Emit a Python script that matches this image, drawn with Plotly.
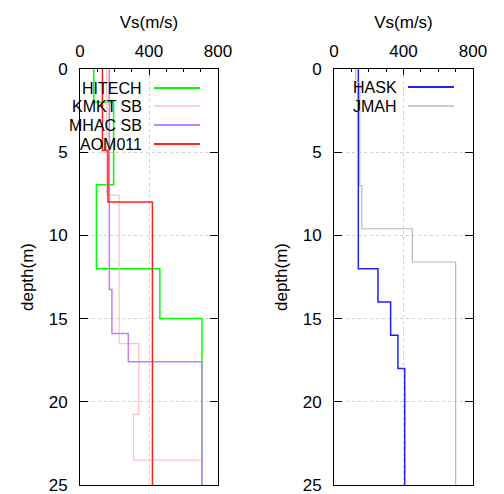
import plotly.graph_objects as go

# ---- data: layer tops (m) and Vs (m/s) ----
hitech_top = [0, 2.0, 6.95, 12.0, 15.0]
hitech_vs = [80, 195, 95, 463, 707]
kmkt_top = [0, 7.6, 16.5, 20.75, 23.5]
kmkt_vs = [155, 227, 341, 310, 707]
mhac_top = [0, 13.25, 15.9, 17.6]
mhac_vs = [170, 185, 280, 707]
aom_top = [0, 4.9, 8.0]
aom_vs = [130, 162, 420]
hask_top = [0, 12.0, 14.0, 16.0, 18.0]
hask_vs = [140, 253, 326, 368, 407]
jmah_top = [0, 0.8, 7.0, 9.6, 11.6]
jmah_vs = [125, 148, 160, 451, 700]
max_depth = 25

left_names = ["HITECH", "KMKT SB", "MHAC SB", "AOM011"]
left_colors = ["#00ff00", "#ffc0c0", "#c080ff", "#ff2020"]
left_widths = [1.5, 1.2, 1.5, 1.5]
right_names = ["HASK", "JMAH"]
right_colors = ["#2020ff", "#b8b8b8"]
right_widths = [1.5, 1.2]

x_ticks = [0, 400, 800]
y_ticks = [0, 5, 10, 15, 20, 25]


def profile(tops, vs):
    xs, ys = [], []
    bottoms = tops[1:] + [max_depth]
    for t, b, v in zip(tops, bottoms, vs):
        xs += [v, v]
        ys += [t, b]
    return xs, ys


fig = go.Figure()
left_data = [(hitech_top, hitech_vs), (kmkt_top, kmkt_vs), (mhac_top, mhac_vs), (aom_top, aom_vs)]
right_data = [(hask_top, hask_vs), (jmah_top, jmah_vs)]

for (t, v), n, c, w in zip(left_data, left_names, left_colors, left_widths):
    xs, ys = profile(t, v)
    fig.add_trace(go.Scatter(x=xs, y=ys, mode="lines", name=n, line=dict(color=c, width=w),
                             xaxis="x", yaxis="y", showlegend=False))
for (t, v), n, c, w in zip(right_data, right_names, right_colors, right_widths):
    xs, ys = profile(t, v)
    fig.add_trace(go.Scatter(x=xs, y=ys, mode="lines", name=n, line=dict(color=c, width=w),
                             xaxis="x2", yaxis="y2", showlegend=False))

# page has an 8px body margin, so the figure is drawn 8px in from the window edge
OFF = 8
W, H = 504 - OFF, 494 - OFF


def px_x(p):
    return (p - OFF) / W


def px_y(p):
    return 1 - (p - OFF) / H


lx = [px_x(80), px_x(218)]
rx = [px_x(334), px_x(473)]
yd = [px_y(485), px_y(69)]

font = dict(family="Liberation Sans, Arial, sans-serif", size=17, color="black")
key_font = dict(family="Liberation Sans, Arial, sans-serif", size=16, color="black")


def xaxis(domain, anchor):
    return dict(domain=domain, anchor=anchor, side="top", range=[0, 800], automargin=False,
                tickvals=x_ticks, ticks="inside", ticklen=6, tickcolor="black",
                minor=dict(dtick=100, ticks="inside", ticklen=3, tickcolor="black", showgrid=False),
                showline=True, linecolor="black", linewidth=1, mirror=True,
                showgrid=True, gridcolor="#d0d0d0", griddash="dot", gridwidth=1,
                zeroline=False, tickfont=font, ticklabelstandoff=4, ticklabeloverflow="allow",
                title=dict(text="Vs(m/s)", font=font, standoff=9))


def yaxis(domain, anchor):
    return dict(domain=domain, anchor=anchor, range=[max_depth, 0], tickvals=y_ticks,
                automargin=False,
                ticks="inside", ticklen=8, tickcolor="black",
                showline=True, linecolor="black", linewidth=1, mirror="ticks",
                showgrid=True, gridcolor="#d0d0d0", griddash="dot", gridwidth=1,
                zeroline=False, tickfont=font, ticklabelstandoff=8, ticklabeloverflow="allow",
                title=dict(text="depth(m)", font=font, standoff=10))


fig.update_layout(
    width=W, height=H, margin=dict(l=0, r=0, t=0, b=0),
    paper_bgcolor="white", plot_bgcolor="white",
    xaxis=xaxis(lx, "y"), yaxis=yaxis(yd, "x"),
    xaxis2=xaxis(rx, "y2"), yaxis2=yaxis(yd, "x2"),
)


# gnuplot-style key: opaque box hiding the grid, right-aligned labels, line samples to the right
def add_key(xa, ya, ax_px, names, colors, widths, text_right, line_x0, line_x1, row_y, box):
    ax0, ax1, ay0, ay1 = ax_px

    def dx(p):
        return (p - ax0) / (ax1 - ax0)

    def dy(p):
        return 1 - (p - ay0) / (ay1 - ay0)

    fig.add_shape(type="rect", xref=xa + " domain", yref=ya + " domain", layer="below",
                  x0=dx(box[0]), x1=dx(box[1]), y0=dy(box[3]), y1=dy(box[2]),
                  fillcolor="white", line=dict(width=0))
    for i, (n, c, w) in enumerate(zip(names, colors, widths)):
        yy = px_y(row_y[i])
        fig.add_annotation(x=px_x(text_right), y=yy, xref="paper", yref="paper", text=n,
                           showarrow=False, xanchor="right", yanchor="middle", font=key_font,
                           height=16, borderpad=0)
        fig.add_shape(type="line", xref="paper", yref="paper", x0=px_x(line_x0), x1=px_x(line_x1),
                      y0=yy, y1=yy, line=dict(color=c, width=w + 0.5))


add_key("x", "y", (80, 218, 69, 485), left_names, left_colors, left_widths,
        143, 154, 200, [88, 106, 125, 144], (81, 212, 70, 153))
add_key("x2", "y2", (334, 473, 69, 485), right_names, right_colors, right_widths,
        398, 408, 454, [87, 106], (335, 462, 70, 116))

fig.write_html("out.html")
